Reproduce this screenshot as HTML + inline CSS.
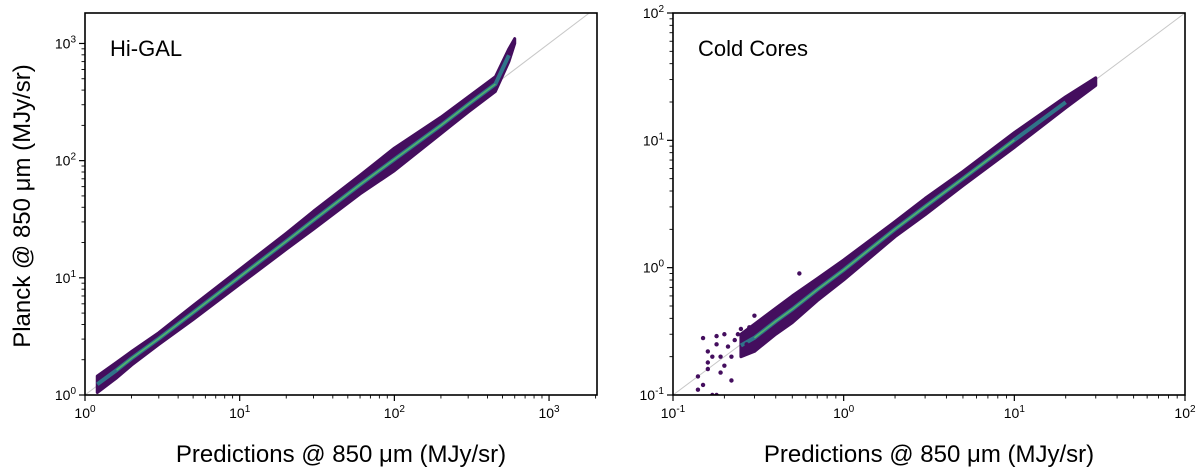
<!DOCTYPE html>
<html><head><meta charset="utf-8"><style>
body{margin:0;background:#fff;width:1200px;height:474px;overflow:hidden}
svg{display:block;font-family:"Liberation Sans",sans-serif}
</style></head><body>
<svg id="c" width="1200" height="474"></svg>
<script>
const leftBandX=[1.2,1.6,2,3,5,10,20,30,60,100,200,300,450,550,600];
const leftBandLo=[1.05,1.4,1.8,2.7,4.4,8.8,17.5,26,52,82,170,260,390,700,1000];
const leftBandHi=[1.45,1.9,2.35,3.4,5.8,11.8,24,37,75,128,235,350,520,900,1100];
const rightBandX=[0.25,0.3,0.4,0.5,0.7,1,2,3,5,10,20,30];
const rightBandLo=[0.2,0.22,0.3,0.37,0.55,0.8,1.75,2.6,4.4,8.8,18,27];
const rightBandHi=[0.3,0.36,0.48,0.6,0.82,1.15,2.3,3.5,5.7,11.5,22,31];
const rightOutX=[0.15,0.16,0.17,0.18,0.14,0.19,0.2,0.16,0.22,0.25,0.18,0.3,0.55,0.15,0.17,0.19,0.21,0.23,0.2,0.24,0.27,0.16,0.18,0.22,0.14,0.26,0.28,0.33,0.35];
const rightOutY=[0.12,0.18,0.1,0.25,0.14,0.15,0.3,0.22,0.13,0.33,0.1,0.42,0.9,0.28,0.2,0.2,0.24,0.27,0.17,0.3,0.25,0.16,0.29,0.2,0.11,0.22,0.34,0.27,0.4];
const panels=[
 {x0:85,x1:597,y0:13,y1:395,xmin:0,xmax:3.31,ymin:0,ymax:3.26,xt:[0,1,2,3],yt:[0,1,2,3],name:'hi-gal',title:'Hi-GAL',bx:leftBandX,lo:leftBandLo,hi:leftBandHi,ox:[],oy:[]},
 {x0:673,x1:1185,y0:13,y1:395,xmin:-1,xmax:2,ymin:-1,ymax:2,xt:[-1,0,1,2],yt:[-1,0,1,2],name:'cold-cores',title:'Cold Cores',bx:rightBandX,lo:rightBandLo,hi:rightBandHi,ox:rightOutX,oy:rightOutY}
];
const s=document.getElementById('c');const NS='http://www.w3.org/2000/svg';
function el(t,a,p){const e=document.createElementNS(NS,t);for(const k in a)e.setAttribute(k,a[k]);(p||s).appendChild(e);return e;}
panels.forEach(p=>{
 const X=v=>p.x0+(Math.log10(v)-p.xmin)/(p.xmax-p.xmin)*(p.x1-p.x0);
 const Y=v=>p.y1-(Math.log10(v)-p.ymin)/(p.ymax-p.ymin)*(p.y1-p.y0);
 const g=el('g',{});
 const cp=el('clipPath',{id:'cp'+p.name},g);el('rect',{x:p.x0,y:p.y0,width:p.x1-p.x0,height:p.y1-p.y0},cp);
 const inner=el('g',{'clip-path':'url(#cp'+p.name+')'},g);
 const d=el('line',{x1:X(10**p.xmin),y1:Y(10**p.xmin),x2:X(10**p.xmax),y2:Y(10**p.xmax),stroke:'#c8c8c8','stroke-width':1},inner);
 
 let pts=p.bx.map((x,i)=>X(x)+','+Y(p.hi[i]));
 for(let i=p.bx.length-1;i>=0;i--)pts.push(X(p.bx[i])+','+Y(p.lo[i]));
 const band=el('polygon',{points:pts.join(' '),fill:'#440e5e',stroke:'#440e5e','stroke-width':3,'stroke-linejoin':'round'},inner);
 
 const mid=p.bx.map((x,i)=>X(x)+','+Y(Math.sqrt(p.lo[i]*p.hi[i])));
 const core=el('polyline',{points:mid.slice(0,-1).join(' '),fill:'none',stroke:'#2f7f8e','stroke-width':4,opacity:0.9},inner);
 
 const core2=el('polyline',{points:mid.slice(1,-2).join(' '),fill:'none',stroke:'#5cc863','stroke-width':1.5,opacity:0.8},inner);
 
 p.ox.forEach((x,i)=>{const c=el('circle',{cx:X(x),cy:Y(p.oy[i]),r:2.2,fill:'#440e5e'},inner);
  });
 const fr=el('rect',{x:p.x0,y:p.y0,width:p.x1-p.x0,height:p.y1-p.y0,fill:'none',stroke:'#000','stroke-width':1.6},g);
 
 for(let e=Math.floor(p.xmin);e<=Math.ceil(p.xmax);e++)for(let m=1;m<10;m++){const v=m*10**e;const lv=Math.log10(v);if(lv<p.xmin-1e-9||lv>p.xmax+1e-9)continue;
  el('line',{x1:X(v),x2:X(v),y1:p.y1,y2:p.y1+(m==1?6:3.5),stroke:'#000','stroke-width':m==1?1.2:0.9},g);}
 for(let e=Math.floor(p.ymin);e<=Math.ceil(p.ymax);e++)for(let m=1;m<10;m++){const v=m*10**e;const lv=Math.log10(v);if(lv<p.ymin-1e-9||lv>p.ymax+1e-9)continue;
  el('line',{y1:Y(v),y2:Y(v),x1:p.x0,x2:p.x0-(m==1?6:3.5),stroke:'#000','stroke-width':m==1?1.2:0.9},g);}
 p.xt.forEach(e=>{const t=el('text',{x:X(10**e),y:p.y1+23,'text-anchor':'middle','font-size':14},g);t.innerHTML='10<tspan dy="-6" font-size="10">'+e+'</tspan>';
  });
 p.yt.forEach(e=>{const t=el('text',{x:p.x0-9,y:Y(10**e)+5,'text-anchor':'end','font-size':14},g);t.innerHTML='10<tspan dy="-6" font-size="10">'+e+'</tspan>';
  });
 const ti=el('text',{x:p.x0+25,y:56,'font-size':22},g);ti.textContent=p.title;
 
 const xl=el('text',{x:(p.x0+p.x1)/2,y:462,'text-anchor':'middle','font-size':24},g);xl.textContent='Predictions @ 850 μm (MJy/sr)';
 
});
const yl=el('text',{x:0,y:0,'text-anchor':'middle','font-size':24,transform:'translate(30,206) rotate(-90)'});yl.textContent='Planck @ 850 μm (MJy/sr)';

</script>
</body></html>
